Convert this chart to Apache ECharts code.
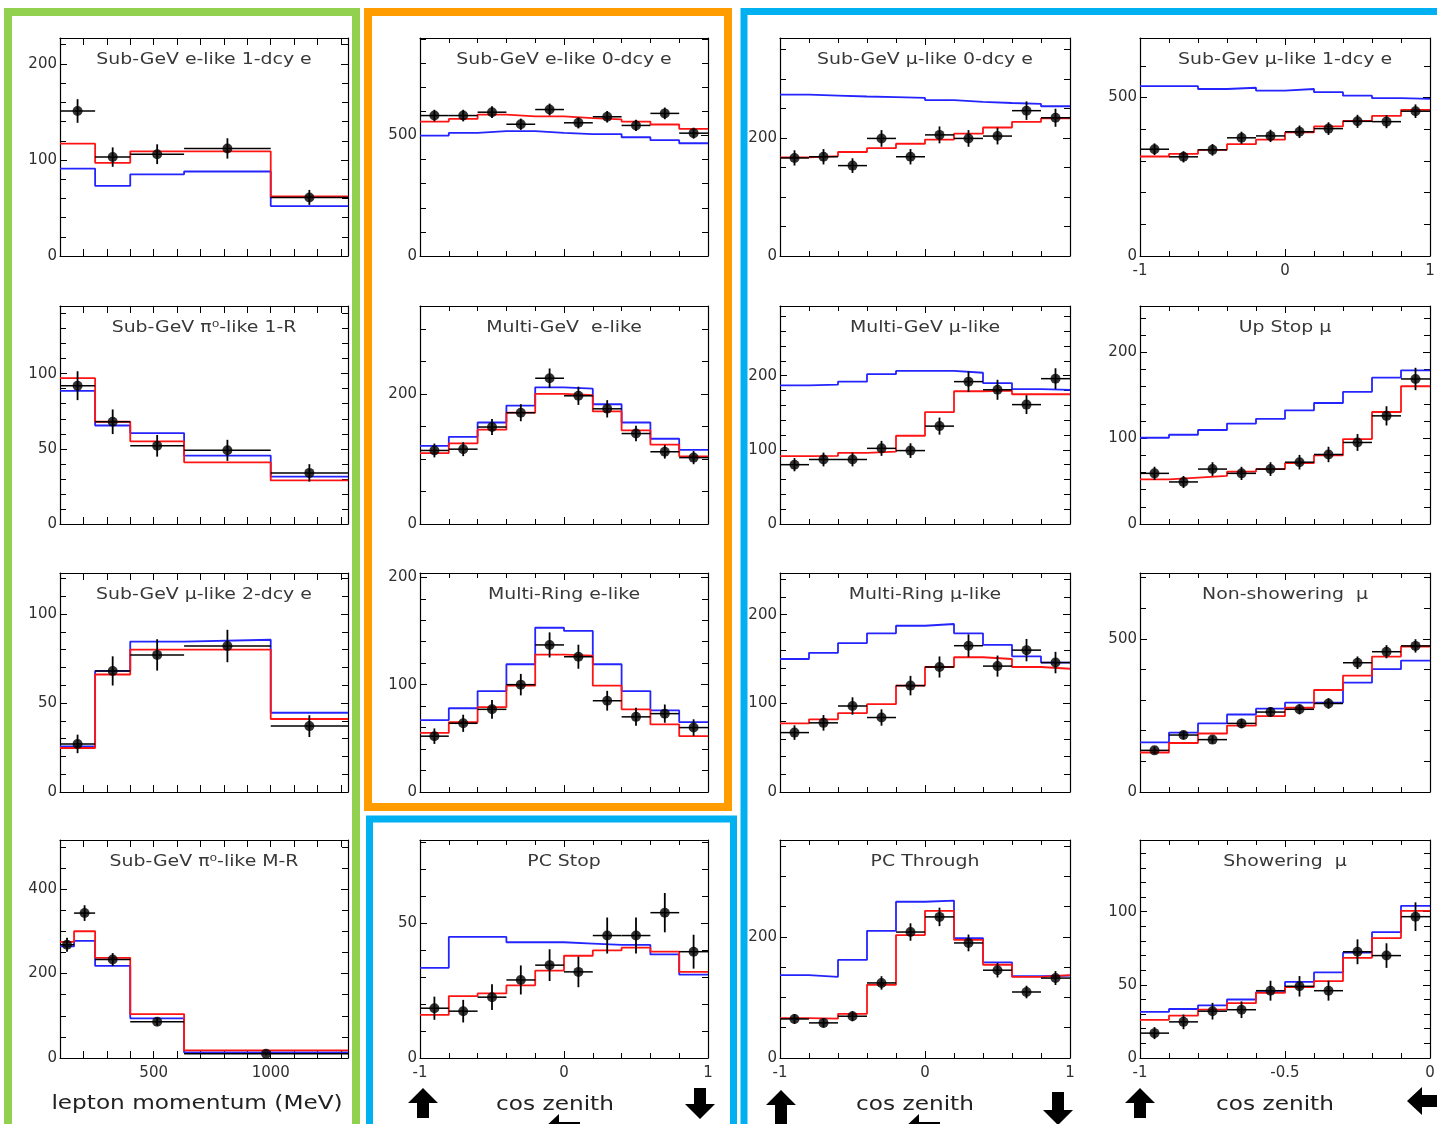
<!DOCTYPE html>
<html>
<head>
<meta charset="utf-8">
<title>Super-K atmospheric neutrino samples</title>
<script src="https://cdn.jsdelivr.net/npm/echarts@6/dist/echarts.min.js"></script>
<style>
  html, body { margin: 0; padding: 0; background: #ffffff; }
  #chart { width: 1437px; height: 1124px; }
</style>
</head>
<body>
<div id="chart"></div>
<script>
// ---------- bin edges ----------
const momentumEdges   = [100, 250, 400, 630, 1000, 1330];
const momentumEdgesMR = [100, 160, 250, 400, 630, 1330];
const cosEdges        = [-1, -0.8, -0.6, -0.4, -0.2, 0, 0.2, 0.4, 0.6, 0.8, 1];
const cosEdgesHalf    = [-1, -0.9, -0.8, -0.7, -0.6, -0.5, -0.4, -0.3, -0.2, -0.1, 0];

// ---------- x tick labels ----------
const momentumTickLabels = [500, 1000];
const cosTickLabels      = [-1, 0, 1];
const cosHalfTickLabels  = [-1, -0.5, 0];

// ---------- samples: data points, stat. errors, oscillated MC (red), null MC (blue) ----------
// Sub-GeV e-like 1-dcy e
const sgE1dData = [151, 103, 106, 112, 61];
const sgE1dErr  = [12.3, 10.1, 10.3, 10.6, 7.8];
const sgE1dOsc  = [117, 97, 109, 109, 62];
const sgE1dNull = [91, 73, 85, 88, 52];

// Sub-GeV pi0-like 1-R
const sgPi1Data = [92, 68, 52, 49, 34];
const sgPi1Err  = [9.6, 8.2, 7.2, 7.0, 5.8];
const sgPi1Osc  = [97, 68, 55, 41, 29];
const sgPi1Null = [88.5, 65.5, 60.5, 45.5, 31.5];

// Sub-GeV mu-like 2-dcy e
const sgMu2dData = [27, 68, 77, 82, 37];
const sgMu2dErr  = [5.2, 8.2, 8.8, 9.1, 6.1];
const sgMu2dOsc  = [24.7, 66, 80, 80, 41];
const sgMu2dNull = [25.6, 68, 84.5, 85.5, 44.5];

// Sub-GeV pi0-like M-R
const sgPiMData = [268, 343, 233, 86, 10];
const sgPiMErr  = [16.4, 18.5, 15.3, 9.3, 3.2];
const sgPiMOsc  = [275, 300, 237, 104, 18];
const sgPiMNull = [264, 277, 218, 94, 13];

// Sub-GeV e-like 0-dcy e
const sgE0dData = [583, 583, 597, 547, 608, 553, 578, 542, 592, 510];
const sgE0dErr  = [24.1, 24.1, 24.4, 23.4, 24.7, 23.5, 24.0, 23.3, 24.3, 22.6];
const sgE0dOsc  = [558, 569, 587, 580, 580, 572, 567, 558, 546, 528];
const sgE0dNull = [500, 511, 518, 518, 511, 506, 506, 493, 481, 468];

// Multi-GeV e-like
const mgEData = [113, 115, 149, 171, 224, 197, 177, 139, 111, 102];
const mgEErr  = [10.6, 10.7, 12.2, 13.1, 15.0, 14.0, 13.3, 11.8, 10.5, 10.1];
const mgEOsc  = [109, 124, 145, 171, 200, 198, 173, 144, 122, 104];
const mgENull = [120, 134, 156, 182, 210, 208, 184, 156, 131, 114];

// Multi-Ring e-like
const mrEData = [52, 64, 77, 100, 137, 126, 85, 70, 73, 60];
const mrEErr  = [7.2, 8.0, 8.8, 10.0, 11.7, 11.2, 9.2, 8.4, 8.5, 7.7];
const mrEOsc  = [55, 65, 79, 99, 128, 127, 99, 77, 63, 52];
const mrENull = [67, 78, 94, 119, 153, 150, 119, 94, 76, 65];

// PC Stop
const pcStopData = [18.5, 17.4, 22.6, 29, 34.5, 32, 45.5, 45.5, 54, 39.5];
const pcStopErr  = [4.3, 4.2, 4.8, 5.4, 5.9, 5.7, 6.7, 6.7, 7.3, 6.3];
const pcStopOsc  = [16, 23, 24, 27, 32.5, 38, 40, 41, 39.5, 32];
const pcStopNull = [33.5, 45, 45, 43, 43, 42.5, 42, 42, 38.5, 31];

// Sub-GeV mu-like 0-dcy e
const sgMu0dData = [166, 168, 153, 199, 168, 205, 199, 203, 246, 234];
const sgMu0dErr  = [12.9, 13.0, 12.4, 14.1, 13.0, 14.3, 14.1, 14.2, 15.7, 15.3];
const sgMu0dOsc  = [167, 169, 176, 182.5, 190, 197, 207, 217.5, 227, 233];
const sgMu0dNull = [273, 271.5, 270, 269, 267.5, 264, 261, 259, 257.5, 253.5];

// Multi-GeV mu-like
const mgMuData = [80, 87, 87, 102, 99, 132, 192, 181, 161, 196];
const mgMuErr  = [8.9, 9.3, 9.3, 10.1, 9.9, 11.5, 13.9, 13.5, 12.7, 14.0];
const mgMuOsc  = [91.5, 92, 96, 97.5, 119, 151, 179, 180, 175, 175];
const mgMuNull = [187, 188, 192, 202, 206.5, 206.5, 204, 190, 182, 181];

// Multi-Ring mu-like
const mrMuData = [67, 78, 97, 84, 120, 141, 165, 142, 160, 146];
const mrMuErr  = [8.2, 8.8, 9.8, 9.2, 11.0, 11.9, 12.8, 11.9, 12.6, 12.1];
const mrMuOsc  = [77.5, 82, 89, 99, 120, 141, 152, 150, 141, 139];
const mrMuNull = [150, 157, 168, 179, 187.5, 189.5, 179, 166, 153, 146];

// PC Through
const pcThruData = [64.5, 58, 69, 124, 208, 233, 190, 145, 109, 132];
const pcThruErr  = [8.0, 7.6, 8.3, 11.1, 14.4, 15.3, 13.8, 12.0, 10.4, 11.5];
const pcThruOsc  = [66, 65, 73, 121, 203, 243, 195, 154, 134, 137];
const pcThruNull = [137, 134, 162, 210, 258, 260, 198, 158, 135, 136];

// Sub-GeV mu-like 1-dcy e
const sgMu1dData = [337, 313, 335, 373, 379, 392, 402, 425, 424, 457];
const sgMu1dErr  = [18.4, 17.7, 18.3, 19.3, 19.5, 19.8, 20.0, 20.6, 20.6, 21.4];
const sgMu1dOsc  = [314, 322, 335, 353, 367, 390, 409, 426, 442, 461];
const sgMu1dNull = [536, 536, 527, 531, 522, 527, 517, 506, 498, 496];

// Up Stop mu
const upStopData = [59, 49, 64, 59, 64, 72, 81, 95, 126, 169];
const upStopErr  = [7.7, 7.0, 8.0, 7.7, 8.0, 8.5, 9.0, 9.8, 11.2, 13.0];
const upStopOsc  = [52, 54, 56, 61, 64, 71, 80, 99, 130.5, 160.5];
const upStopNull = [100.5, 104, 109.5, 117, 122.5, 132.5, 141, 154, 170.5, 179];

// Non-showering mu
const nonShData = [136, 186, 171, 224, 261, 270, 289, 422, 458, 477];
const nonShErr  = [11.7, 13.6, 13.1, 15.0, 16.2, 16.4, 17.0, 20.5, 21.4, 21.8];
const nonShOsc  = [129, 160, 191, 217, 248, 275, 333, 380, 442, 475];
const nonShNull = [162, 194, 224, 253, 272, 291.5, 291.5, 357, 401, 429];

// Showering mu
const showData = [17, 24.7, 32, 33, 46, 49, 46, 72.6, 70, 96.6];
const showErr  = [4.1, 5.0, 5.7, 5.7, 6.8, 7.0, 6.8, 8.5, 8.4, 9.8];
const showOsc  = [26, 29, 33, 37.5, 44.5, 48.5, 52.5, 68.5, 82, 100.5];
const showNull = [31.5, 33.5, 36, 40, 45, 52, 58.5, 72, 86, 104];

// ---------- x-axis kinds ----------
const xKinds = {
  momentum: { min: 100, max: 1330, interval: 100, split: 0, labels: momentumTickLabels },
  cos:      { min: -1, max: 1, interval: 1, split: 5, labels: cosTickLabels },
  cosHalf:  { min: -1, max: 0, interval: 0.5, split: 5, labels: cosHalfTickLabels }
};

// ---------- panel table (row, col, sample, y range) ----------
const panels = [
  { row: 0, col: 0, title: 'Sub-GeV e-like 1-dcy e', x: 'momentum', edges: momentumEdges, data: sgE1dData, err: sgE1dErr, osc: sgE1dOsc, nul: sgE1dNull, yMax: 227, yStep: 100, ySplit: 5, showX: false },
  { row: 1, col: 0, title: 'Sub-GeV π⁰-like 1-R', x: 'momentum', edges: momentumEdges, data: sgPi1Data, err: sgPi1Err, osc: sgPi1Osc, nul: sgPi1Null, yMax: 145, yStep: 50, ySplit: 5, showX: false },
  { row: 2, col: 0, title: 'Sub-GeV μ-like 2-dcy e', x: 'momentum', edges: momentumEdges, data: sgMu2dData, err: sgMu2dErr, osc: sgMu2dOsc, nul: sgMu2dNull, yMax: 123, yStep: 50, ySplit: 5, showX: false },
  { row: 3, col: 0, title: 'Sub-GeV π⁰-like M-R', x: 'momentum', edges: momentumEdgesMR, data: sgPiMData, err: sgPiMErr, osc: sgPiMOsc, nul: sgPiMNull, yMax: 516, yStep: 200, ySplit: 4, showX: true },

  { row: 0, col: 1, title: 'Sub-GeV e-like 0-dcy e', x: 'cos', edges: cosEdges, data: sgE0dData, err: sgE0dErr, osc: sgE0dOsc, nul: sgE0dNull, yMax: 905, yStep: 500, ySplit: 5, showX: false },
  { row: 1, col: 1, title: 'Multi-GeV  e-like', x: 'cos', edges: cosEdges, data: mgEData, err: mgEErr, osc: mgEOsc, nul: mgENull, yMax: 335, yStep: 200, ySplit: 4, showX: false },
  { row: 2, col: 1, title: 'Multi-Ring e-like', x: 'cos', edges: cosEdges, data: mrEData, err: mrEErr, osc: mrEOsc, nul: mrENull, yMax: 204, yStep: 100, ySplit: 5, showX: false },
  { row: 3, col: 1, title: 'PC Stop', x: 'cos', edges: cosEdges, data: pcStopData, err: pcStopErr, osc: pcStopOsc, nul: pcStopNull, yMax: 81, yStep: 50, ySplit: 5, showX: true },

  { row: 0, col: 2, title: 'Sub-GeV μ-like 0-dcy e', x: 'cos', edges: cosEdges, data: sgMu0dData, err: sgMu0dErr, osc: sgMu0dOsc, nul: sgMu0dNull, yMax: 369, yStep: 200, ySplit: 4, showX: false },
  { row: 1, col: 2, title: 'Multi-GeV μ-like', x: 'cos', edges: cosEdges, data: mgMuData, err: mgMuErr, osc: mgMuOsc, nul: mgMuNull, yMax: 294, yStep: 100, ySplit: 5, showX: false },
  { row: 2, col: 2, title: 'Multi-Ring μ-like', x: 'cos', edges: cosEdges, data: mrMuData, err: mrMuErr, osc: mrMuOsc, nul: mrMuNull, yMax: 247, yStep: 100, ySplit: 5, showX: false },
  { row: 3, col: 2, title: 'PC Through', x: 'cos', edges: cosEdges, data: pcThruData, err: pcThruErr, osc: pcThruOsc, nul: pcThruNull, yMax: 360, yStep: 200, ySplit: 4, showX: true },

  { row: 0, col: 3, title: 'Sub-Gev μ-like 1-dcy e', x: 'cos', edges: cosEdges, data: sgMu1dData, err: sgMu1dErr, osc: sgMu1dOsc, nul: sgMu1dNull, yMax: 688, yStep: 500, ySplit: 5, showX: true },
  { row: 1, col: 3, title: 'Up Stop μ', x: 'cos', edges: cosEdges, data: upStopData, err: upStopErr, osc: upStopOsc, nul: upStopNull, yMax: 254, yStep: 100, ySplit: 5, showX: false },
  { row: 2, col: 3, title: 'Non-showering  μ', x: 'cos', edges: cosEdges, data: nonShData, err: nonShErr, osc: nonShOsc, nul: nonShNull, yMax: 715, yStep: 500, ySplit: 5, showX: false },
  { row: 3, col: 3, title: 'Showering  μ', x: 'cosHalf', edges: cosEdgesHalf, data: showData, err: showErr, osc: showOsc, nul: showNull, yMax: 149, yStep: 50, ySplit: 5, showX: true }
];

// ---------- layout ----------
const colLeft   = [60, 420, 780, 1140];
const colWidth  = [288, 288, 290, 290];
const rowTop    = [38, 306, 573, 840];
const rowHeight = [218, 218, 219, 218];

const FONT = 'DejaVu Sans';
const LABEL_COLOR = '#303030';
const OSC_COLOR = '#ff1414';
const NULL_COLOR = '#2424ff';

function stepData(edges, values) {
  const pts = values.map((v, k) => [edges[k], v]);
  pts.push([edges[values.length], values[values.length - 1]]);
  return pts;
}

function isMultiple(v, step) {
  const r = v / step;
  return Math.abs(r - Math.round(r)) < 1e-6;
}

const grids = [], xAxes = [], yAxes = [], series = [];
const tickLine = { color: '#000', width: 1 };
const axisLineStyle = { show: true, onZero: false, lineStyle: { color: '#000', width: 1.2 } };

panels.forEach((p, i) => {
  const xk = xKinds[p.x];
  grids.push({
    left: colLeft[p.col], top: rowTop[p.row],
    width: colWidth[p.col], height: rowHeight[p.row],
    containLabel: false, outerBoundsMode: 'none'
  });

  const xCommon = {
    type: 'value', gridIndex: i, min: xk.min, max: xk.max, interval: xk.interval,
    axisLine: axisLineStyle,
    axisTick: { show: true, inside: true, length: 7, lineStyle: tickLine },
    minorTick: { show: xk.split > 0, splitNumber: xk.split || 5, length: 5, lineStyle: tickLine },
    splitLine: { show: false }, minorSplitLine: { show: false }
  };
  xAxes.push(Object.assign({}, xCommon, {
    position: 'bottom',
    axisLabel: {
      show: p.showX, margin: 8, color: LABEL_COLOR, fontFamily: FONT, fontSize: 15,
      formatter: v => xk.labels.some(t => Math.abs(t - v) < 1e-9) ? String(v) : ''
    }
  }));
  xAxes.push(Object.assign({}, xCommon, { position: 'top', axisLabel: { show: false } }));

  const yCommon = {
    type: 'value', gridIndex: i, min: 0, max: p.yMax, interval: p.yStep,
    axisLine: axisLineStyle,
    axisTick: { show: true, inside: true, length: 7, lineStyle: tickLine },
    minorTick: { show: true, splitNumber: p.ySplit, length: 6, lineStyle: tickLine },
    splitLine: { show: false }, minorSplitLine: { show: false }
  };
  yAxes.push(Object.assign({}, yCommon, {
    position: 'left',
    axisLabel: {
      show: true, margin: 3, color: LABEL_COLOR, fontFamily: FONT, fontSize: 15,
      formatter: v => isMultiple(v, p.yStep) ? String(v) : ''
    }
  }));
  yAxes.push(Object.assign({}, yCommon, { position: 'right', axisLabel: { show: false } }));

  const xi = 2 * i, yi = 2 * i;
  const centers = p.data.map((v, k) => (p.edges[k] + p.edges[k + 1]) / 2);
  const halves = p.data.map((v, k) => (p.edges[k + 1] - p.edges[k]) / 2);

  series.push({
    type: 'line', name: p.title + ' null', xAxisIndex: xi, yAxisIndex: yi,
    data: stepData(p.edges, p.nul), step: 'end', symbol: 'none', z: 2,
    lineStyle: { color: NULL_COLOR, width: 1.8 }, silent: true
  });
  series.push({
    type: 'line', name: p.title + ' osc', xAxisIndex: xi, yAxisIndex: yi,
    data: stepData(p.edges, p.osc), step: 'end', symbol: 'none', z: 3,
    lineStyle: { color: OSC_COLOR, width: 1.8 }, silent: true
  });
  series.push({
    type: 'custom', name: p.title + ' err', xAxisIndex: xi, yAxisIndex: yi, z: 4, silent: true,
    data: p.data.map((v, k) => [centers[k], v, p.err[k], halves[k]]),
    encode: { x: 0, y: 1 },
    renderItem: (params, api) => {
      const x = api.value(0), y = api.value(1), e = api.value(2), hw = api.value(3);
      const l = api.coord([x - hw, y]), r = api.coord([x + hw, y]);
      const t = api.coord([x, y + e]), b = api.coord([x, y - e]);
      return {
        type: 'group',
        children: [
          { type: 'line', shape: { x1: l[0], y1: l[1], x2: r[0], y2: r[1] }, style: { stroke: '#000', lineWidth: 1.5 } },
          { type: 'line', shape: { x1: t[0], y1: t[1], x2: b[0], y2: b[1] }, style: { stroke: '#000', lineWidth: 1.8 } }
        ]
      };
    }
  });
  series.push({
    type: 'scatter', name: p.title + ' data', xAxisIndex: xi, yAxisIndex: yi, z: 5, silent: true,
    data: p.data.map((v, k) => [centers[k], v]),
    symbol: 'circle', symbolSize: 10, itemStyle: { color: '#000' }
  });
});

// ---------- decorations: titles, axis names, arrows, group frames ----------
const graphics = [];

function frame(x, y, w, h, color, lw) {
  graphics.push({ type: 'rect', z: -5, silent: true,
    shape: { x, y, width: w, height: h },
    style: { fill: null, stroke: color, lineWidth: lw } });
}
frame(8, 12, 348, 1130, '#92d050', 8);
frame(368, 12, 360, 795, '#ff9c00', 8);
frame(369.5, 819, 364, 320, '#00b0f0', 7);
frame(744, 11.5, 710, 1130, '#00b0f0', 7);

function label(text, x, y, size, sx, color) {
  graphics.push({ type: 'text', x, y, scaleX: sx, z: 10, silent: true,
    style: { text, x: 0, y: 0, font: size + 'px "' + FONT + '"', fill: color,
      align: 'center', verticalAlign: 'middle', textAlign: 'center', textVerticalAlign: 'middle' } });
}
panels.forEach(p => {
  label(p.title, colLeft[p.col] + colWidth[p.col] / 2, rowTop[p.row] + 22, 16, 1.18, '#383838');
});
label('lepton momentum (MeV)', 197, 1104, 20, 1.16, '#222');
label('cos zenith', 555, 1105, 20, 1.16, '#222');
label('cos zenith', 915, 1105, 20, 1.16, '#222');
label('cos zenith', 1275, 1105, 20, 1.16, '#222');

function poly(points) {
  graphics.push({ type: 'polygon', z: 10, silent: true, shape: { points }, style: { fill: '#000' } });
}
function upArrow(cx, top, bottom) {
  const mid = top + 15;
  poly([[cx, top], [cx + 15, mid], [cx + 6, mid], [cx + 6, bottom], [cx - 6, bottom], [cx - 6, mid], [cx - 15, mid]]);
}
function downArrow(cx, top, bottom) {
  const mid = bottom - 15;
  poly([[cx, bottom], [cx + 15, mid], [cx + 6, mid], [cx + 6, top], [cx - 6, top], [cx - 6, mid], [cx - 15, mid]]);
}
function leftArrow(tip, cy, end) {
  const mid = tip + 15;
  poly([[tip, cy], [mid, cy - 14], [mid, cy - 6], [end, cy - 6], [end, cy + 6], [mid, cy + 6], [mid, cy + 14]]);
}
upArrow(423, 1088, 1118);
upArrow(781, 1090, 1124);
upArrow(1140, 1088, 1118);
downArrow(700, 1088, 1119);
downArrow(1058, 1092, 1125);
leftArrow(1407, 1101, 1440);
leftArrow(544, 1128, 580);
leftArrow(904, 1128, 940);

const chart = echarts.init(document.getElementById('chart'), null, { renderer: 'canvas' });
chart.setOption({
  animation: false,
  backgroundColor: '#ffffff',
  grid: grids,
  xAxis: xAxes,
  yAxis: yAxes,
  series: series,
  graphic: { elements: graphics }
});
</script>
</body>
</html>
